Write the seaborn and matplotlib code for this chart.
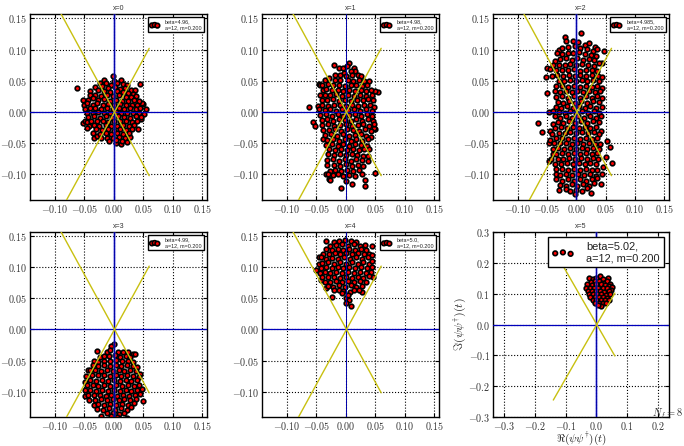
import pandas as pd
import matplotlib
matplotlib.use('Agg')
import matplotlib.pyplot as plt
import seaborn as sns

# values, (re, im)
cloud0 = [(-.063,.039),(.044,.045),(-.001,.058),(-.053,.020),(-.050,.011),(.054,.004),(.050,.013),(.047,.014),
(-.053,-.018),(-.049,-.014),(.046,-.012),(.051,-.004),(.041,-.028),(.012,-.052),(.004,-.049),(-.033,-.041),(-.028,-.039),(.028,-.040),
(-.016,.052),(.001,.050),(.012,.051),(-.024,.046),(-.013,.047),(-.005,.044),(.006,.047),(.015,.045),(.022,.043),
(-.032,.040),(-.020,.041),(-.010,.038),(.002,.040),(.011,.037),(.019,.039),(.029,.035),(.036,.035),
(-.041,.033),(-.027,.035),(-.016,.033),(-.006,.032),(.006,.034),(.016,.032),(.024,.030),(.033,.029),
(-.040,.027),(-.032,.028),(-.022,.026),(-.012,.027),(-.002,.025),(.009,.027),(.020,.024),(.029,.024),(.038,.025),
(-.043,.020),(-.035,.022),(-.026,.019),(-.016,.021),(-.006,.018),(.004,.020),(.014,.018),(.024,.017),(.034,.020),(.042,.018),
(-.045,.014),(-.036,.012),(-.028,.014),(-.018,.012),(-.009,.013),(.001,.011),(.011,.013),(.020,.011),(.031,.012),(.040,.011),
(-.048,.005),(-.040,.006),(-.031,.007),(-.021,.005),(-.011,.006),(-.002,.005),(.008,.006),(.018,.004),(.028,.006),(.037,.004),(.045,.006),
(-.046,-.001),(-.036,-.002),(-.026,.000),(-.016,-.002),(-.006,-.001),(.004,.000),(.013,-.002),(.023,-.001),(.033,-.002),(.042,-.001),
(-.044,-.008),(-.033,-.007),(-.023,-.009),(-.013,-.007),(-.003,-.009),(.007,-.007),(.017,-.008),(.027,-.009),(.037,-.007),(.046,-.008),
(-.046,-.016),(-.038,-.014),(-.029,-.015),(-.019,-.014),(-.009,-.016),(.001,-.014),(.011,-.015),(.021,-.014),(.031,-.016),(.040,-.014),
(-.042,-.023),(-.034,-.021),(-.025,-.023),(-.014,-.021),(-.004,-.022),(.006,-.023),(.016,-.021),(.026,-.023),(.035,-.021),
(-.045,-.026),(-.030,-.028),(-.020,-.029),(-.010,-.027),(.000,-.030),(.011,-.028),(.020,-.029),(.031,-.027),
(-.035,-.034),(-.024,-.035),(-.014,-.033),(-.004,-.036),(.006,-.034),(.016,-.035),(.026,-.033),
(-.022,-.041),(-.011,-.041),(-.001,-.042),(.009,-.040),(.019,-.041),(-.008,-.047),(.003,-.045),(.014,-.047),(.022,-.048)]

cloud1 = [(-.062,.008),(.055,.032),(.050,.033),(-.046,.045),(-.043,.044),(-.020,.076),(.005,.078),(-.012,.070),(-.055,-.016),(-.052,-.023),
(.050,-.028),(.047,-.025),(-.038,-.044),(.049,-.098),(.033,-.109),(.032,-.119),(.010,-.115),(-.008,-.121),(.000,-.110),(-.028,-.108),(-.026,-.109),(-.034,-.100),
(-.005,.070),(.002,.073),(.014,.071),(.016,.066),(-.003,.063),(.008,.066),(-.018,.059),(-.010,.060),(.000,.058),(.011,.060),(.020,.060),(.026,.057),
(-.036,.052),(-.028,.054),(-.019,.051),(-.009,.052),(.003,.052),(.012,.050),(.022,.052),(.031,.049),(.040,.050),
(-.040,.044),(-.030,.045),(-.021,.043),(-.012,.044),(-.002,.042),(.008,.044),(.018,.043),(.027,.042),(.036,.044),
(-.039,.036),(-.033,.037),(-.024,.035),(-.014,.036),(-.005,.034),(.005,.035),(.015,.034),(.025,.036),(.034,.034),(.043,.035),
(-.043,.028),(-.035,.028),(-.026,.027),(-.016,.029),(-.006,.026),(.004,.028),(.014,.026),(.024,.027),(.034,.026),(.044,.028),
(-.040,.020),(-.031,.019),(-.021,.021),(-.011,.018),(-.001,.020),(.009,.018),(.019,.020),(.029,.019),(.038,.021),(.046,.019),
(-.047,.010),(-.040,.012),(-.030,.010),(-.020,.012),(-.010,.011),(.000,.010),(.011,.012),(.021,.010),(.031,.011),(.041,.012),(.048,.008),
(-.045,.005),(-.036,.003),(-.026,.004),(-.016,.002),(-.006,.004),(.004,.003),(.014,.005),(.024,.002),(.034,.004),(.044,.002),
(-.044,-.005),(-.034,-.004),(-.024,-.006),(-.014,-.004),(-.004,-.006),(.006,-.005),(.016,-.004),(.026,-.006),(.036,-.004),(.045,-.006),
(-.041,-.013),(-.032,-.012),(-.022,-.014),(-.012,-.012),(-.002,-.013),(.008,-.014),(.018,-.012),(.028,-.014),(.038,-.012),(.046,-.014),
(-.040,-.021),(-.030,-.020),(-.020,-.022),(-.010,-.021),(.000,-.020),(.010,-.022),(.020,-.021),(.030,-.020),(.040,-.022),(.047,-.020),
(-.038,-.029),(-.028,-.029),(-.018,-.028),(-.008,-.030),(.002,-.028),(.012,-.029),(.022,-.030),(.032,-.028),(.042,-.030),
(-.035,-.037),(-.025,-.036),(-.015,-.038),(-.005,-.036),(.005,-.038),(.015,-.037),(.025,-.036),(.035,-.038),(.043,-.040),
(-.032,-.045),(-.022,-.044),(-.012,-.046),(-.002,-.044),(.008,-.046),(.018,-.044),(.028,-.046),(.037,-.044),
(-.033,-.053),(-.024,-.052),(-.014,-.054),(-.004,-.052),(.006,-.054),(.016,-.052),(.026,-.053),(.036,-.054),
(-.028,-.060),(-.018,-.061),(-.008,-.059),(.002,-.061),(.012,-.060),(.022,-.061),(.031,-.059),(.040,-.060),
(-.030,-.068),(-.020,-.069),(-.010,-.067),(.000,-.069),(.010,-.068),(.019,-.069),(.030,-.070),(.037,-.070),
(-.031,-.077),(-.022,-.076),(-.012,-.078),(-.002,-.076),(.008,-.078),(.018,-.076),(.028,-.077),(.038,-.079),
(-.031,-.085),(-.020,-.085),(-.010,-.086),(.000,-.084),(.010,-.086),(.021,-.085),(.029,-.087),
(-.027,-.094),(-.018,-.093),(-.008,-.095),(.002,-.093),(.012,-.095),(.022,-.093),
(-.030,-.100),(-.021,-.101),(-.013,-.100),(-.004,-.102),(.006,-.101),(.015,-.103),(.028,-.099)]

cloud2 = [(-.050,.070),(-.052,.056),(-.050,.031),(-.065,-.017),(-.058,-.032),(.052,-.046),(.057,-.056),(.050,-.072),(.060,-.081),(.045,-.088),
(.025,-.130),(.008,.127),(.047,.098),(-.020,.120),(-.047,-.078),(-.047,-.049),(-.046,.000),(.043,-.100),(.042,-.115),(.044,.078),
(-.018,.113),(-.006,.113),(.003,.112),(.015,.108),(.022,.110),(.032,.104),(-.030,.100),(-.024,.102),(-.014,.104),(-.003,.105),(.007,.103),(.019,.101),(.028,.098),(.036,.101),
(-.033,.094),(-.025,.093),(-.015,.095),(-.005,.094),(.005,.096),(.015,.093),(.025,.092),(.034,.090),(-.036,.082),(-.028,.085),(-.018,.086),(-.008,.084),(.002,.086),(.012,.084),(.022,.085),(.031,.083),(.038,.079),
(-.040,.075),(-.030,.076),(-.020,.075),(-.010,.077),(.000,.075),(.010,.077),(.020,.075),(.030,.074),(-.044,.069),(-.034,.067),(-.024,.068),(-.014,.067),(-.004,.069),(.006,.066),(.016,.068),(.026,.067),(.035,.066),
(-.042,.057),(-.033,.059),(-.023,.058),(-.013,.060),(-.003,.058),(.007,.060),(.017,.058),(.027,.059),(.037,.058),(-.030,.050),(-.021,.049),(-.011,.051),(-.001,.049),(.009,.051),(.019,.049),(.029,.051),(.039,.050),(.043,.056),
(-.034,.041),(-.024,.042),(-.014,.040),(-.004,.042),(.006,.040),(.016,.042),(.026,.040),(.036,.042),(.044,.038),(-.036,.033),(-.028,.032),(-.018,.034),(-.008,.032),(.002,.034),(.012,.032),(.022,.034),(.032,.032),(.041,.033),
(-.034,.024),(-.024,.025),(-.014,.023),(-.004,.025),(.006,.023),(.016,.025),(.026,.023),(.036,.025),(.043,.022),(-.032,.016),(-.022,.015),(-.012,.017),(-.002,.015),(.008,.017),(.018,.015),(.028,.017),(.038,.016),
(-.035,.008),(-.026,.007),(-.016,.009),(-.006,.007),(.004,.009),(.014,.007),(.024,.009),(.034,.007),(.043,.008),(-.040,.001),(-.030,.000),(-.020,-.001),(-.010,.001),(.000,-.001),(.010,.001),(.020,-.001),(.030,.001),(.039,-.001),
(-.036,-.007),(-.027,-.009),(-.017,-.007),(-.007,-.009),(.003,-.007),(.013,-.009),(.023,-.007),(.033,-.009),(.042,-.007),(-.040,-.020),(-.032,-.016),(-.022,-.017),(-.012,-.015),(-.002,-.017),(.008,-.015),(.018,-.017),(.028,-.015),(.038,-.016),
(-.044,-.030),(-.036,-.025),(-.026,-.024),(-.016,-.026),(-.006,-.024),(.004,-.026),(.014,-.024),(.024,-.026),(.034,-.024),(.042,-.030),(-.041,-.036),(-.030,-.033),(-.020,-.034),(-.010,-.032),(.000,-.034),(.010,-.032),(.020,-.034),(.030,-.032),(.038,-.035),
(-.044,-.045),(-.034,-.042),(-.024,-.041),(-.014,-.043),(-.004,-.041),(.006,-.043),(.016,-.041),(.026,-.043),(.036,-.041),(-.038,-.050),(-.028,-.050),(-.018,-.049),(-.008,-.051),(.002,-.049),(.012,-.051),(.022,-.049),(.032,-.051),(.040,-.051),
(-.040,-.060),(-.031,-.058),(-.021,-.059),(-.011,-.057),(-.001,-.059),(.009,-.057),(.019,-.059),(.029,-.057),(.038,-.059),(-.040,-.068),(-.034,-.067),(-.024,-.066),(-.014,-.068),(-.004,-.066),(.006,-.068),(.016,-.066),(.026,-.068),(.036,-.066),
(-.043,-.075),(-.032,-.075),(-.022,-.076),(-.012,-.074),(-.002,-.076),(.008,-.074),(.018,-.076),(.028,-.074),(.037,-.076),(-.036,-.083),(-.026,-.084),(-.016,-.082),(-.006,-.084),(.004,-.082),(.014,-.084),(.024,-.082),(.034,-.084),
(-.034,-.092),(-.024,-.091),(-.014,-.093),(-.004,-.091),(.006,-.093),(.016,-.091),(.026,-.093),(.036,-.093),(-.035,-.100),(-.027,-.101),(-.017,-.099),(-.007,-.101),(.003,-.099),(.013,-.101),(.023,-.099),(.033,-.102),
(-.034,-.108),(-.024,-.110),(-.014,-.108),(-.004,-.110),(.006,-.108),(.016,-.110),(.026,-.108),(.036,-.106),(-.028,-.117),(-.018,-.118),(-.008,-.116),(.002,-.118),(.012,-.116),(.022,-.118),(.030,-.113),
(-.030,-.125),(-.018,-.124),(-.010,-.126),(-.001,-.125),(.009,-.126),(.019,-.122),(-.003,-.132)]

cloud3 = [(-.028,-.034),(.000,-.024),(-.005,-.026),(.033,-.040),(.036,-.040),(-.043,-.065),(.050,-.115),(.047,-.096),(-.022,-.139),(.022,-.142),
(-.012,-.037),(-.006,-.033),(.007,-.036),(.015,-.036),(.024,-.036),(-.024,-.044),(-.017,-.043),(-.008,-.042),(.002,-.041),(.011,-.044),(.020,-.042),(.028,-.045),
(-.034,-.050),(-.026,-.052),(-.016,-.050),(-.006,-.051),(.004,-.049),(.014,-.051),(.024,-.050),(.032,-.052),(-.036,-.058),(-.027,-.059),(-.017,-.057),(-.007,-.059),(.003,-.057),(.013,-.059),(.023,-.057),(.033,-.059),(.040,-.060),
(-.040,-.066),(-.032,-.065),(-.022,-.067),(-.012,-.065),(-.002,-.067),(.008,-.065),(.018,-.067),(.028,-.065),(.038,-.067),(.044,-.072),(-.047,-.075),(-.037,-.073),(-.027,-.074),(-.017,-.073),(-.007,-.075),(.003,-.073),(.013,-.075),(.023,-.073),(.033,-.075),(.042,-.076),
(-.048,-.084),(-.040,-.082),(-.030,-.083),(-.020,-.081),(-.010,-.083),(.000,-.081),(.010,-.083),(.020,-.081),(.030,-.083),(.040,-.081),(-.046,-.090),(-.036,-.090),(-.026,-.091),(-.016,-.089),(-.006,-.091),(.004,-.089),(.014,-.091),(.024,-.089),(.034,-.091),(.043,-.090),
(-.048,-.098),(-.040,-.098),(-.030,-.099),(-.020,-.097),(-.010,-.099),(.000,-.097),(.010,-.099),(.020,-.097),(.030,-.099),(.040,-.097),(-.049,-.107),(-.044,-.105),(-.034,-.106),(-.024,-.105),(-.014,-.107),(-.004,-.105),(.006,-.107),(.016,-.105),(.026,-.107),(.036,-.105),(.044,-.104),
(-.042,-.113),(-.032,-.114),(-.022,-.112),(-.012,-.114),(-.002,-.112),(.008,-.114),(.018,-.112),(.028,-.114),(.037,-.112),(-.034,-.122),(-.026,-.120),(-.016,-.122),(-.006,-.120),(.004,-.122),(.014,-.120),(.024,-.122),(.034,-.119),
(-.028,-.128),(-.018,-.129),(-.008,-.127),(.002,-.129),(.012,-.127),(.022,-.129),(.030,-.125),(-.012,-.135),(-.002,-.134),(.008,-.136),(.017,-.134),(-.004,-.140),(.005,-.141)]

cloud4 = [(-.033,.142),(.044,.135),(-.050,.096),(-.024,.052),(.000,.050),(.005,.048),(.000,.043),(.009,.038),(.046,.085),(-.046,.117),(-.046,.105),(-.042,.080),(-.034,.066),(.028,.060),
(-.020,.141),(-.011,.143),(-.002,.144),(.008,.142),(.017,.141),(-.026,.135),(-.016,.136),(-.006,.137),(.004,.135),(.014,.137),(.024,.135),(.032,.136),
(-.033,.129),(-.024,.128),(-.014,.130),(-.004,.128),(.006,.130),(.016,.128),(.026,.130),(.035,.128),(-.038,.122),(-.029,.121),(-.019,.123),(-.009,.121),(.001,.123),(.011,.121),(.021,.123),(.031,.121),(.040,.122),
(-.042,.116),(-.033,.114),(-.023,.115),(-.013,.114),(-.003,.116),(.007,.114),(.017,.116),(.027,.114),(.037,.116),(.045,.120),(-.040,.107),(-.030,.108),(-.020,.106),(-.010,.108),(.000,.106),(.010,.108),(.020,.106),(.030,.108),(.040,.106),(.045,.110),
(-.042,.099),(-.034,.100),(-.024,.099),(-.014,.101),(-.004,.099),(.006,.101),(.016,.099),(.026,.101),(.036,.099),(.044,.100),(-.044,.091),(-.036,.092),(-.026,.091),(-.016,.093),(-.006,.091),(.004,.093),(.014,.091),(.024,.093),(.034,.091),(.042,.092),
(-.040,.084),(-.030,.084),(-.020,.085),(-.010,.083),(.000,.085),(.010,.083),(.020,.085),(.030,.083),(.040,.086),(-.036,.077),(-.026,.076),(-.016,.078),(-.006,.076),(.004,.078),(.014,.076),(.024,.078),(.034,.076),
(-.030,.070),(-.022,.069),(-.012,.071),(-.002,.069),(.008,.071),(.018,.069),(.028,.070),(-.020,.063),(-.012,.064),(-.004,.062),(.007,.061),(.014,.064),(.022,.064),(-.006,.058),(.004,.056)]

cloud5 = [(-.025,.150),(-.012,.147),(.000,.152),(.012,.157),(.022,.146),(.038,.150),
(-.018,.138),(-.004,.140),(.010,.142),(.024,.136),(.036,.140),(.045,.131),(-.030,.130),(-.014,.128),(.000,.130),(.014,.130),(.028,.127),(.042,.125),(.050,.122),
(-.034,.118),(-.022,.120),(-.008,.118),(.006,.120),(.020,.118),(.034,.118),(.047,.112),(-.026,.108),(-.014,.110),(.000,.108),(.012,.110),(.026,.107),(.040,.108),
(-.024,.098),(-.012,.098),(.002,.098),(.016,.099),(.030,.097),(.043,.098),(-.020,.088),(-.006,.088),(.008,.088),(.022,.089),(.036,.087),
(-.012,.079),(.000,.078),(.014,.078),(.028,.079),(.040,.080),(-.004,.070),(.008,.069),(.020,.070),(.032,.071),(.014,.061),(.004,.063)]

clouds = [cloud0, cloud1, cloud2, cloud3, cloud4, cloud5]
panel_titles = ['x=0', 'x=1', 'x=2', 'x=3', 'x=4', 'x=5']
betas = ['4.96', '4.98', '4.985', '4.99', '5.0', '5.02']
line_re = [-0.14, 0.06]
line_up = [-0.245, 0.102]
line_down = [0.245, -0.102]
small_ticks = [-0.10, -0.05, 0.00, 0.05, 0.10, 0.15]
big_xticks = [-0.3, -0.2, -0.1, 0.0, 0.1, 0.2]
big_yticks = [-0.3, -0.2, -0.1, 0.0, 0.1, 0.2, 0.3]

sns.set_style('ticks')
plt.rcParams['font.family'] = 'cmr10'
plt.rcParams['mathtext.fontset'] = 'cm'
plt.rcParams['axes.formatter.use_mathtext'] = True
plt.rcParams['axes.unicode_minus'] = True

W, H = 684.0, 446.0
# axes boxes in pixels: left, top, right, bottom
boxes = [(30, 14, 207, 200), (262, 14, 439, 200), (493, 14, 669, 200),
         (30, 232, 207, 417), (262, 232, 439, 417), (493, 232, 669, 417)]
# panels where the vertical line looks pale and wide
pale_v = [True, False, True, True, False, True]

fig = plt.figure(figsize=(W / 100, H / 100), dpi=100)

for i in range(6):
    l, t, r, b = boxes[i]
    ax = fig.add_axes([l / W, 1 - b / H, (r - l) / W, (b - t) / H])
    df = pd.DataFrame(clouds[i], columns=['re', 'im'])
    label = 'beta=' + betas[i] + ',\na=12, m=0.200'
    sns.scatterplot(data=df, x='re', y='im', ax=ax, color='#ff0000', edgecolor='black',
                    s=11, linewidth=1.2, label=label, zorder=2)

    # blue axes lines and yellow guide lines sit on top of the cloud
    if pale_v[i]:
        ax.axvline(0, color='#4444dd', lw=2.2, alpha=0.4, zorder=3)
    ax.axvline(0, color='#0000aa', lw=0.7, zorder=3)
    ax.axhline(0, color='#0000bb', lw=0.9, zorder=3)
    sns.lineplot(x=line_re, y=line_up, ax=ax, color='#c8c010', lw=1.0, sort=False, estimator=None, legend=False, zorder=4)
    sns.lineplot(x=line_re, y=line_down, ax=ax, color='#c8c010', lw=1.0, sort=False, estimator=None, legend=False, zorder=4)

    if i < 5:
        ax.set_xlim(-0.142, 0.158)
        ax.set_ylim(-0.141, 0.157)
        ax.set_xticks(small_ticks)
        ax.set_yticks(small_ticks)
        leg = ax.legend(loc='upper right', scatterpoints=3, frameon=True, fancybox=False,
                        framealpha=1, edgecolor='black', borderpad=0.4, labelspacing=0.1,
                        handletextpad=1.1, handlelength=1.6, borderaxespad=0.6,
                        prop={'family': 'Liberation Sans', 'size': 3.9})
    else:
        ax.set_xlim(-0.336, 0.236)
        ax.set_ylim(-0.3, 0.3)
        ax.set_xticks(big_xticks)
        ax.set_yticks(big_yticks)
        leg = ax.legend(loc='upper right', scatterpoints=3, frameon=True, fancybox=False,
                        framealpha=1, edgecolor='black', borderpad=0.4, labelspacing=0.1,
                        handletextpad=1.1, handlelength=2.0, borderaxespad=0.46,
                        prop={'family': 'Liberation Sans', 'size': 7.9})
    leg.get_frame().set_linewidth(1.0)
    for txt in leg.get_texts():
        txt.set_color('#222222')
    leg.set_zorder(6)

    ax.set_title(panel_titles[i], fontsize=5, family='Liberation Sans', pad=3, color='#333333')
    ax.grid(True, color='black', linestyle=':', linewidth=0.8)
    ax.set_axisbelow(True)
    ax.tick_params(direction='in', top=True, right=True, length=3, width=0.8,
                   labelsize=7.2, labelcolor='#333333', pad=2, color='black')
    for s in ax.spines.values():
        s.set_visible(True)
        s.set_linewidth(1.0)
        s.set_color('black')
    ax.set_xlabel('')
    ax.set_ylabel('')
    if i == 5:
        ax.set_xlabel(r'$\Re(\psi\psi^{\dagger})(t)$', fontsize=8, color='#222222')
        ax.set_ylabel(r'$\Im(\psi\psi^{\dagger})(t)$', fontsize=8.5, color='#222222')
        ax.xaxis.set_label_coords(0.5, -(430 - 417) / 185.0, transform=ax.transAxes)
        ax.yaxis.set_label_coords(-(493 - 469) / 176.0, 0.5, transform=ax.transAxes)

fig.text(683 / W, 1 - 416 / H, r'$N_f = 8$', fontsize=7.5, color='#333333', ha='right')

fig.savefig('out.png', dpi=100)
